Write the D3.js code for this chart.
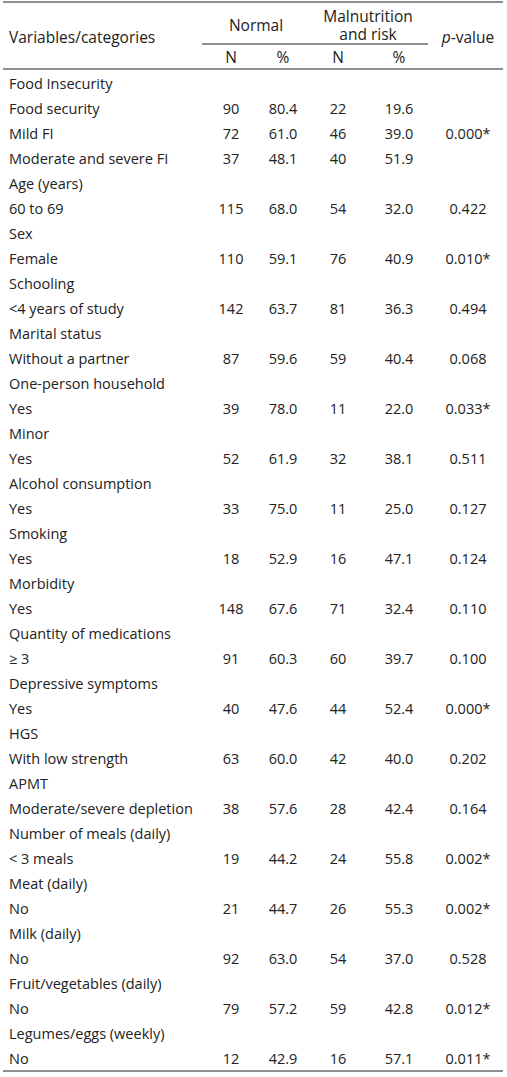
<!DOCTYPE html>
<html><head><meta charset="utf-8">
<script src="https://cdn.jsdelivr.net/npm/d3@7"></script>
<style>body{margin:0;background:#fff}</style>
</head><body><div id="chart"></div>
<script>
const width = 507, height = 1077;

// 表格数据
const labels = ["Food Insecurity","Food security","Mild FI","Moderate and severe FI","Age (years)","60 to 69","Sex","Female","Schooling","<4 years of study","Marital status","Without a partner","One-person household","Yes","Minor","Yes","Alcohol consumption","Yes","Smoking","Yes","Morbidity","Yes","Quantity of medications","≥ 3","Depressive symptoms","Yes","HGS","With low strength","APMT","Moderate/severe depletion","Number of meals (daily)","< 3 meals","Meat (daily)","No","Milk (daily)","No","Fruit/vegetables (daily)","No","Legumes/eggs (weekly)","No"];
const normalN = ["","90","72","37","","115","","110","","142","","87","","39","","52","","33","","18","","148","","91","","40","","63","","38","","19","","21","","92","","79","","12"];
const normalPct = ["","80.4","61.0","48.1","","68.0","","59.1","","63.7","","59.6","","78.0","","61.9","","75.0","","52.9","","67.6","","60.3","","47.6","","60.0","","57.6","","44.2","","44.7","","63.0","","57.2","","42.9"];
const malN = ["","22","46","40","","54","","76","","81","","59","","11","","32","","11","","16","","71","","60","","44","","42","","28","","24","","26","","54","","59","","16"];
const malPct = ["","19.6","39.0","51.9","","32.0","","40.9","","36.3","","40.4","","22.0","","38.1","","25.0","","47.1","","32.4","","39.7","","52.4","","40.0","","42.4","","55.8","","55.3","","37.0","","42.8","","57.1"];
const pValue = ["","","0.000*","","","0.422","","0.010*","","0.494","","0.068","","0.033*","","0.511","","0.127","","0.124","","0.110","","0.100","","0.000*","","0.202","","0.164","","0.002*","","0.002*","","0.528","","0.012*","","0.011*"];
const columns = ["nN","nP","mN","mP","p"];

const svg = d3.select("#chart").append("svg").attr("width", width).attr("height", height)
  .style("font-family", "Open Sans, sans-serif").style("font-size", "14.5px").attr("fill", "#222");

const x = d3.scaleOrdinal().domain(columns).range([231, 283, 338, 399, 468]);
const y = d3.scaleBand().domain(d3.range(labels.length)).range([71, 1071]);

// 线
const hline = (x1, x2, yy) => svg.append("line").attr("x1", x1).attr("x2", x2).attr("y1", yy).attr("y2", yy)
  .attr("stroke", "#222").attr("stroke-width", 1.2);
hline(3, 503, 2); hline(202, 428, 44); hline(3, 503, 69); hline(3, 503, 1071);

// 表头
const head = (t, xx, yy, anchor) => svg.append("text").attr("x", xx).attr("y", yy).attr("text-anchor", anchor || "middle")
  .style("font-size", "15.5px").text(t);
head("Variables/categories", 9, 43, "start");
head("Normal", 256, 31);
head("Malnutrition", 368, 22);
head("and risk", 368, 40);
head("N", x("nN"), 63); head("%", x("nP"), 63); head("N", x("mN"), 63); head("%", x("mP"), 63);
const pv = svg.append("text").attr("x", 468).attr("y", 43).attr("text-anchor", "middle").style("font-size", "15.5px");
pv.append("tspan").attr("font-style", "italic").text("p");
pv.append("tspan").text("-value");

// 行
const rows = svg.append("g").selectAll("g").data(labels).enter().append("g")
  .attr("transform", (d, i) => `translate(0,${y(i) + y.bandwidth() / 2 + 5})`);
rows.append("text").attr("x", 9).text(d => d);
const cols = [normalN, normalPct, malN, malPct, pValue];
columns.forEach((c, ci) => {
  rows.append("text").attr("x", x(c)).attr("text-anchor", "middle").text((d, i) => cols[ci][i]);
});
</script></body></html>
